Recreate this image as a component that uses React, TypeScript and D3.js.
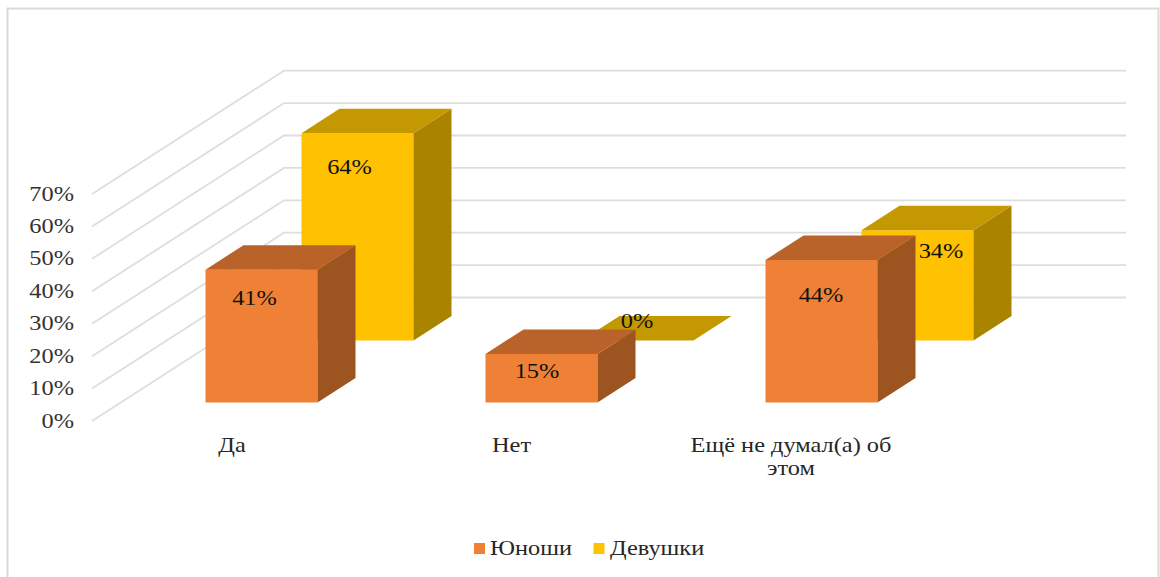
import React from "react";
import * as d3 from "d3";

const categories = ["Да", "Нет", "Ещё не думал(а) об этом"];
const categoryLines = [["Да"], ["Нет"], ["Ещё не думал(а) об", "этом"]];
const seriesNames = ["Юноши", "Девушки"];
const boys = [41, 15, 44];
const girls = [64, 0, 34];
const ticks = [0, 10, 20, 30, 40, 50, 60, 70];

// hand-placed label nudges from the bar front centre / front top
const boysLabelDx = [-7, -4.5, -0.5];
const boysLabelDy = [28, 17, 35];
const girlsLabelDx = [-8, -0.5, 23.5];
const girlsLabelDy = [34, -19.5, 20.5];
const categoryCenters = [232, 511.5, 791];

const W = 1160, H = 577;
const DX = 38, DY = -24.5;
const BAR = 112;
const FONT = "'Liberation Serif', 'Times New Roman', serif";
const STRETCH = 1.16;
const C = {
  boys: { front: "#EE8136", top: "#B9632A", side: "#9C5520" },
  girls: { front: "#FFC200", top: "#C49800", side: "#AA8300" },
  grid: "#DEDEDE",
  border: "#D9D9D9",
};

const x = d3.scaleBand<string>().domain(categories).range([205.5, 1045.5]).paddingInner(0).paddingOuter(0);
const yFront = d3.scaleLinear().domain([0, 70]).range([402.5, 402.5 - 226.8]);
const GIRL_DX = 96, GIRL_DY = -62;
const wall = d3.scaleLinear().domain([0, 70]).range([421, 194]);
const back = d3.scaleLinear().domain([0, 70]).range([297.5, 70.7]);

const poly = (pts: [number, number][]) => (d3.line()(pts) || "") + "Z";

function Bar({ x0, base, value, col }: { x0: number; base: number; value: number; col: typeof C.boys }) {
  const h = yFront(0) - yFront(value);
  const t = base - h;
  const x1 = x0 + BAR;
  return (
    <g>
      {value > 0 && <path d={poly([[x0, t], [x1, t], [x1, base], [x0, base]])} fill={col.front} />}
      {value > 0 && <path d={poly([[x1, t], [x1 + DX, t + DY], [x1 + DX, base + DY], [x1, base]])} fill={col.side} />}
      <path d={poly([[x0, t], [x0 + DX, t + DY], [x1 + DX, t + DY], [x1, t]])} fill={col.top} />
    </g>
  );
}

function T({ x: tx, y, anchor = "middle", size = 21, fill = "#262626", children }: any) {
  return (
    <text
      transform={`translate(${tx},${y}) scale(${STRETCH},1)`}
      textAnchor={anchor}
      fontFamily={FONT}
      fontSize={size}
      fill={fill}
    >
      {children}
    </text>
  );
}

export default function App() {
  return (
    <svg
      width={W}
      height={H}
      style={{ position: "absolute", left: 0, top: 0, background: "#fff" }}
    >
      <path d="M7.5 578V8.5H1158.5V578" fill="none" stroke={C.border} strokeWidth={2} />
      {ticks.map((t) => (
        <g key={t}>
          <path
            d={d3.line()([[92, wall(t)], [284, back(t)], [1126, back(t)]]) || ""}
            fill="none"
            stroke={C.grid}
            strokeWidth={1.8}
          />
          <T x={74} y={wall(t) + 6.5} anchor="end" fill="#333">{`${t}%`}</T>
        </g>
      ))}
      {categories.map((c, i) => {
        const x0 = x(c) as number;
        return (
          <g key={c}>
            <Bar x0={x0 + GIRL_DX} base={yFront(0) + GIRL_DY} value={girls[i]} col={C.girls} />
            <Bar x0={x0} base={yFront(0)} value={boys[i]} col={C.boys} />
          </g>
        );
      })}
      {categories.map((c, i) => {
        const x0 = x(c) as number;
        const cBoy = x0 + BAR / 2;
        const cGirl = x0 + GIRL_DX + BAR / 2;
        const topBoy = yFront(boys[i]);
        const topGirl = yFront(girls[i]) + GIRL_DY;
        return (
          <g key={c}>
            <T x={cGirl + girlsLabelDx[i]} y={topGirl + girlsLabelDy[i] + 7} fill="#111">{`${girls[i]}%`}</T>
            <T x={cBoy + boysLabelDx[i]} y={topBoy + boysLabelDy[i] + 7} fill="#111">{`${boys[i]}%`}</T>
            {categoryLines[i].map((ln, j) => (
              <T key={ln} x={categoryCenters[i]} y={452 + j * 23} fill="#262626">{ln}</T>
            ))}
          </g>
        );
      })}
      <rect x={474} y={543} width={11} height={11} fill={C.boys.front} />
      <T x={490} y={555} anchor="start">{seriesNames[0]}</T>
      <rect x={593.5} y={543} width={11} height={11} fill={C.girls.front} />
      <T x={610} y={555} anchor="start">{seriesNames[1]}</T>
    </svg>
  );
}
